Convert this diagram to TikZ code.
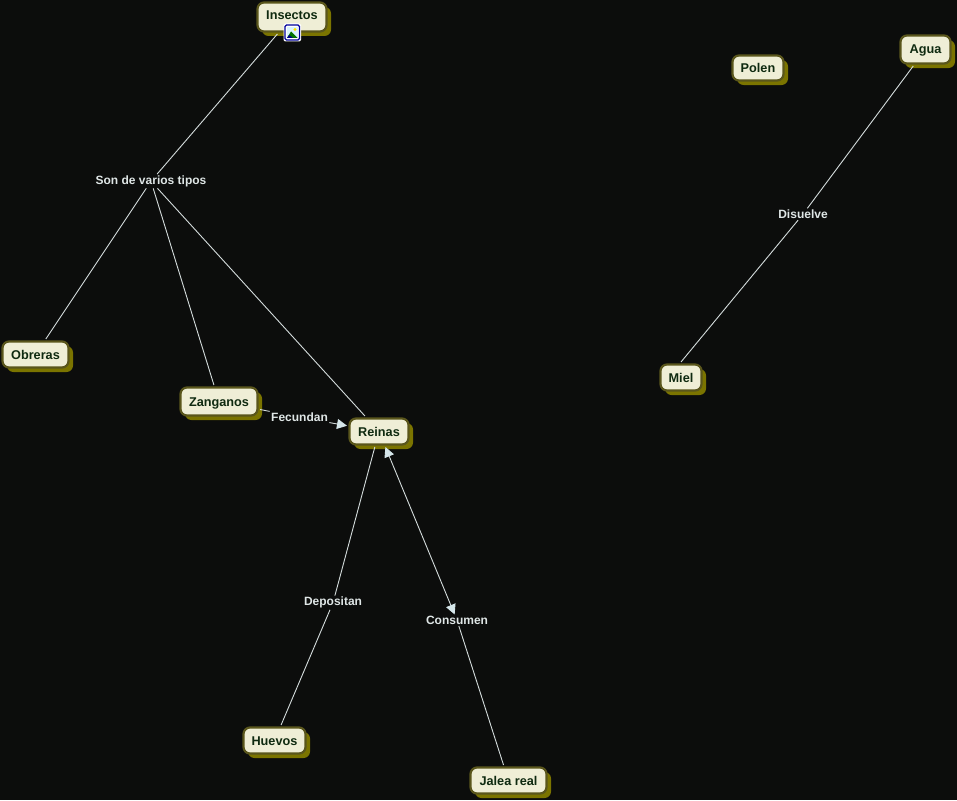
\documentclass[tikz,border=0pt]{standalone}
\usepackage{fontspec}
\setmainfont{Liberation Sans}
\usetikzlibrary{arrows.meta,shadows}
\definecolor{bgc}{HTML}{0C0D0C}
\definecolor{boxfill}{HTML}{EFEED6}
\definecolor{boxline}{HTML}{5A561C}
\definecolor{boxshadow}{HTML}{7B7400}
\definecolor{boxtext}{HTML}{0F2A10}
\definecolor{linktext}{HTML}{DFE6E6}
\definecolor{linkline}{HTML}{D4DCDC}
\definecolor{tipc}{HTML}{D5E6EA}
\tikzset{
  concept/.style={draw=boxline,line width=2.2pt,fill=boxfill,rounded corners=6.5pt,text=boxtext,
    font=\fontsize{12.7}{14}\selectfont\bfseries,inner sep=0pt,outer sep=2.5pt,text height=9pt,text depth=0pt,
    general shadow={fill=boxshadow,shadow xshift=4.5pt,shadow yshift=-4.5pt}},
  linklabel/.style={text=linktext,font=\fontsize{12}{14}\selectfont\bfseries,inner sep=0pt,outer sep=1.5pt},
  conn/.style={draw=linkline,line width=0.9pt},
  tiptri/.tip={Triangle[length=10pt,width=10pt,fill=tipc,color=tipc]},
  tipped/.style={conn,-tiptri},
  bothtip/.style={conn,tiptri-tiptri}
}
\begin{document}
\begin{tikzpicture}[x=1pt,y=-1pt]
\useasboundingbox[fill=bgc] (0,0) rectangle (957,800);
% link labels
\node[linklabel] (tipos) at (151,181.2) {Son de varios tipos};
\node[linklabel] (disuelve) at (803,214.2) {Disuelve};
\node[linklabel] (fecundan) at (299.5,417.2) {Fecundan};
\node[linklabel] (depositan) at (333,602.7) {Depositan};
\node[linklabel] (consumen) at (457,620.2) {Consumen};
% concepts
\node[concept,minimum width=69pt,minimum height=29pt] (insectos) at (292,17) {\raisebox{2pt}{Insectos}};
\node[concept,minimum width=51pt,minimum height=25pt] (polen) at (758,68) {Polen};
\node[concept,minimum width=50pt,minimum height=28pt] (agua) at (925.5,49.5) {\raisebox{1pt}{Agua}};
\node[concept,minimum width=66pt,minimum height=26pt] (obreras) at (35.5,354.5) {Obreras};
\node[concept,minimum width=77pt,minimum height=28pt] (zanganos) at (219,401.5) {Zanganos};
\node[concept,minimum width=59pt,minimum height=26pt] (reinas) at (379,431.5) {Reinas};
\node[concept,minimum width=41pt,minimum height=26pt] (miel) at (681,377.5) {Miel};
\node[concept,minimum width=62pt,minimum height=26pt] (huevos) at (274.5,740.5) {Huevos};
\node[concept,minimum width=76pt,minimum height=26pt] (jalea) at (508.5,780.5) {Jalea real};
% connectors
\draw[conn] (insectos) -- (tipos);
\draw[conn] (tipos) -- (obreras);
\draw[conn] (tipos) -- (zanganos);
\draw[conn] (tipos) -- (reinas);
\draw[conn] (zanganos) -- (fecundan);
\draw[tipped] (fecundan) -- (reinas);
\draw[conn] (reinas) -- (depositan);
\draw[conn] (depositan) -- (huevos);
\draw[bothtip] (reinas) -- (consumen);
\draw[conn] (consumen) -- (jalea);
\draw[conn] (agua) -- (disuelve);
\draw[conn] (disuelve) -- (miel.north);
% image icon on Insectos
\fill[white,rounded corners=2pt] (283.5,23.5) rectangle (301,41.5);
\draw[draw=blue!60!black,line width=1.1pt,rounded corners=1.5pt] (285,25) rectangle (299.5,40);
\fill[white!85!cyan] (287,27) rectangle (297.5,38);
\fill[yellow!85!orange] (295,29.5) circle (1.6pt);
\fill[green!45!black] (287,38) -- (291,31.5) -- (297.5,38) -- cycle;
\fill[blue!55!black] (287,38) -- (289,35) -- (293,38) -- cycle;
\end{tikzpicture}
\end{document}
